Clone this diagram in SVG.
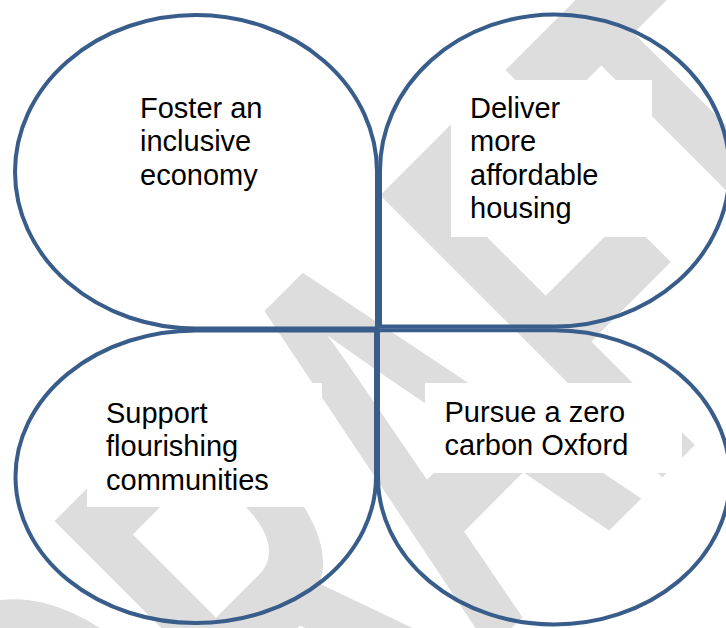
<svg xmlns="http://www.w3.org/2000/svg" width="726" height="628" viewBox="0 0 726 628">
  <style>
    .shape { fill: none; stroke: #385D8A; stroke-width: 4; stroke-linejoin: miter; }
    .box { fill: #ffffff; stroke: none; }
    .label { font-family: "Liberation Sans", Arial, sans-serif; font-size: 29px; fill: #000000; }
    .wm { font-family: "Liberation Sans", Arial, sans-serif; font-weight: bold; font-size: 580px; fill: #dddddd; }
  </style>
  <rect x="0" y="0" width="726" height="628" fill="#ffffff"/>
  <g id="watermark">
    <text class="wm" transform="translate(158.6,981.2) rotate(-45) scale(0.55,1)" x="0" y="0">DRAFT</text>
  </g>
  <g id="connectors"></g>
  <g id="node-economy">
    <path class="shape" d="M 15,171.75 A 181 156.75 0 0 1 196,15 A 181 156.75 0 0 1 377,171.75 L 377,328.5 L 196,328.5 A 181 156.75 0 0 1 15,171.75 Z"/>
    <rect class="box" x="121" y="80" width="200" height="157"/>
    <text class="label"><tspan x="140" y="117.5">Foster an</tspan><tspan x="140" y="151">inclusive</tspan><tspan x="140" y="184.5">economy</tspan></text>
  </g>
  <g id="node-housing">
    <path class="shape" d="M 380,170.5 A 174.75 156 0 0 1 554.75,14.5 A 174.75 156 0 0 1 729.5,170.5 A 174.75 156 0 0 1 554.75,326.5 L 380,326.5 Z"/>
    <rect class="box" x="451" y="80" width="201" height="157"/>
    <text class="label"><tspan x="470" y="117.5">Deliver</tspan><tspan x="470" y="151">more</tspan><tspan x="470" y="184.5">affordable</tspan><tspan x="470" y="218">housing</tspan></text>
  </g>
  <g id="node-communities">
    <path class="shape" d="M 195.75,330.5 L 376,330.5 L 376,476.75 A 180.25 146.25 0 0 1 195.75,623 A 180.25 146.25 0 0 1 15.5,476.75 A 180.25 146.25 0 0 1 195.75,330.5 Z"/>
    <rect class="box" x="87" y="383" width="235" height="124"/>
    <text class="label"><tspan x="106" y="422.5">Support</tspan><tspan x="106" y="456">flourishing</tspan><tspan x="106" y="489.5">communities</tspan></text>
  </g>
  <g id="node-carbon">
    <path class="shape" d="M 378,330.2 L 554,330.2 A 176 147.15 0 0 1 730,477.35 A 176 147.15 0 0 1 554,624.5 A 176 147.15 0 0 1 378,477.35 Z"/>
    <rect class="box" x="425" y="383" width="257" height="90"/>
    <text class="label"><tspan x="444.5" y="421.5">Pursue a zero</tspan><tspan x="444.5" y="455">carbon Oxford</tspan></text>
  </g>
</svg>
